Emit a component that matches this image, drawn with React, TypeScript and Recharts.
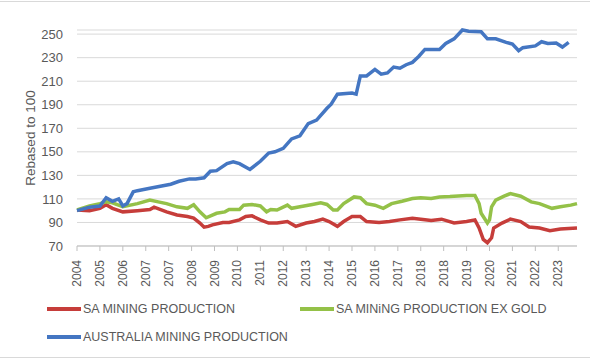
import React from 'react';
import { LineChart, Line, XAxis, YAxis, CartesianGrid } from 'recharts';

// x = months since the first observation, y = index (rebased to 100)
const saMining: [number, number][] = [
  [0, 100.6], [6, 100], [11, 102], [14, 105], [17, 102], [22, 99], [29, 100], [35, 101], [37, 103],
  [43, 99], [48, 96.4], [53, 95], [56, 93.7], [59, 89.5], [61, 86], [63, 86.7], [65, 88], [70, 90],
  [73, 90], [78, 92.2], [81, 95], [84, 95.6], [88, 92.2], [92, 89.5], [96, 89.5], [101, 90.8],
  [105, 86.7], [110, 89.5], [114, 90.8], [118, 92.8], [121, 90.8], [125, 86.7], [128, 90.8],
  [132, 95], [136, 95], [139, 90.8], [145, 90], [150, 90.8], [155, 92.2], [161, 93.6], [165, 92.8],
  [170, 91.7], [175, 92.8], [181, 89.5], [187, 90.8], [191, 92.2], [193, 85.3], [195, 75.6],
  [197, 72.8], [199, 77], [200, 85.3], [204, 89.5], [208, 92.8], [213, 90.8], [217, 86.1],
  [222, 85.3], [227, 83], [232, 84.5], [240, 85.3],
];

const saExGold: [number, number][] = [
  [0, 100.6], [6, 104], [11, 106], [14, 107.5], [17, 106.7], [22, 103.3], [29, 106], [35, 109],
  [39, 107.5], [43, 106], [48, 103.3], [53, 102], [56, 105], [59, 99], [62, 94], [67, 97.8],
  [71, 99], [73, 101], [78, 101], [80, 104.7], [84, 105.3], [88, 104], [91, 99], [93, 101],
  [96, 100.6], [101, 104.7], [103, 102], [107, 103.3], [113, 105.3], [117, 106.7], [120, 105.3],
  [123, 100.6], [125, 100.6], [128, 106], [133, 111.7], [136, 111], [139, 106], [143, 104.7],
  [147, 102], [151, 106], [156, 108], [161, 110.3], [165, 111], [170, 110.3], [174, 111.7],
  [179, 112], [187, 113], [191, 113], [193, 106], [194, 97.8], [197, 89.5], [198, 92.2],
  [199, 103.3], [201, 109], [205, 112.3], [208, 114.5], [213, 112.3], [218, 107.5], [222, 106],
  [228, 102], [232, 103.3], [237, 104.7], [240, 106],
];

const ausMining: [number, number][] = [
  [0, 100], [6, 103], [11, 104], [14, 111], [17, 108], [20, 110], [22, 104], [24, 106], [27, 116],
  [29, 117], [35, 119], [45, 122.5], [49, 125], [54, 127], [57, 127], [61, 128], [64, 133.5],
  [67, 134], [72, 140], [75, 141.5], [78, 140], [83, 135], [88, 142], [92, 149], [95, 150],
  [99, 153], [103, 161], [107, 163.6], [111, 174], [115, 177], [120, 187], [122, 190.5], [125, 199],
  [132, 200], [134, 199], [136, 214.5], [139, 214.5], [143, 220], [146, 216], [149, 217],
  [152, 222], [155, 221], [158, 224], [161, 226], [164, 231], [167, 237], [174, 237], [177, 242],
  [181, 246], [185, 253.5], [188, 252.5], [194, 252], [197, 246], [201, 246], [206, 243],
  [209, 241.5], [212, 236], [214, 238.5], [220, 240], [223, 243.5], [226, 242], [230, 242.5],
  [233, 239], [236, 243],
];

const xTickLabels = ['2004', '2005', '2006', '2007', '2007', '2008', '2009', '2010', '2011', '2012', '2013',
  '2014', '2015', '2016', '2017', '2018', '2018', '2019', '2020', '2021', '2022', '2023'];
const xTickStep = 11;
const yTicks = [70, 90, 110, 130, 150, 170, 190, 210, 230, 250];

const series = [
  { name: 'SA MINING PRODUCTION', color: '#c63d3a', points: saMining },
  { name: 'SA MINiNG PRODUCTION EX GOLD', color: '#94c148', points: saExGold },
  { name: 'AUSTRALIA MINING PRODUCTION', color: '#4476c2', points: ausMining },
];

const FONT = '"Liberation Sans", Arial, sans-serif';
const xTicks = xTickLabels.map((_, i) => i * xTickStep);

const YearTick = (props: any) => {
  const { x, y, payload } = props;
  const label = xTickLabels[Math.round(payload.value / xTickStep)] ?? '';
  return (
    <text
      x={x}
      y={y}
      transform={`rotate(-90, ${x}, ${y})`}
      textAnchor="end"
      dominantBaseline="central"
      fill="#595959"
      fontSize={12}
      fontFamily={FONT}
    >
      {label}
    </text>
  );
};

const LegendItem = ({ color, name, left, top }: { color: string; name: string; left: number; top: number }) => (
  <div style={{ position: 'absolute', left, top, display: 'flex', alignItems: 'center' }}>
    <div style={{ width: 34, height: 4, background: color, marginRight: 2 }} />
    <span style={{ fontSize: 12.5, color: '#595959', fontFamily: FONT, whiteSpace: 'nowrap' }}>{name}</span>
  </div>
);

export default function App() {
  return (
    <div style={{ position: 'absolute', left: 0, top: 0, width: 590, height: 361, background: '#fff' }}>
      <div style={{ position: 'absolute', left: 0, top: 1, width: 590, height: 357, borderTop: '1px solid #d9d9d9', borderBottom: '1px solid #d9d9d9', boxSizing: 'border-box' }} />
      <LineChart width={590} height={361} margin={{ top: 30, right: 13, bottom: 75, left: 37 }}>
        <CartesianGrid horizontal vertical={false} stroke="#d9d9d9" />
        <XAxis
          type="number"
          dataKey="m"
          domain={[0, 240]}
          ticks={xTicks}
          interval={0}
          tick={<YearTick />}
          tickSize={5}
          tickMargin={9}
          height={40}
          stroke="#bfbfbf"
          allowDuplicatedCategory
        />
        <YAxis
          type="number"
          domain={[70, 250]}
          ticks={yTicks}
          interval={0}
          width={40}
          axisLine={false}
          tickLine={false}
          tickMargin={8}
          tick={{ fill: '#595959', fontSize: 13, fontFamily: FONT }}
          label={{
            value: 'Rebased to 100',
            angle: -90,
            position: 'insideLeft',
            offset: 0,
            dx: -7,
            style: { fill: '#595959', fontSize: 13.5, fontFamily: FONT, textAnchor: 'middle' },
          }}
        />
        {series.map(s => (
          <Line
            key={s.name}
            data={s.points.map(([m, v]) => ({ m, v }))}
            dataKey="v"
            name={s.name}
            type="linear"
            stroke={s.color}
            strokeWidth={3.5}
            dot={false}
            activeDot={false}
            isAnimationActive={false}
          />
        ))}
      </LineChart>
      <LegendItem color={series[0].color} name={series[0].name} left={47} top={302} />
      <LegendItem color={series[1].color} name={series[1].name} left={300} top={302} />
      <LegendItem color={series[2].color} name={series[2].name} left={47} top={330} />
    </div>
  );
}
